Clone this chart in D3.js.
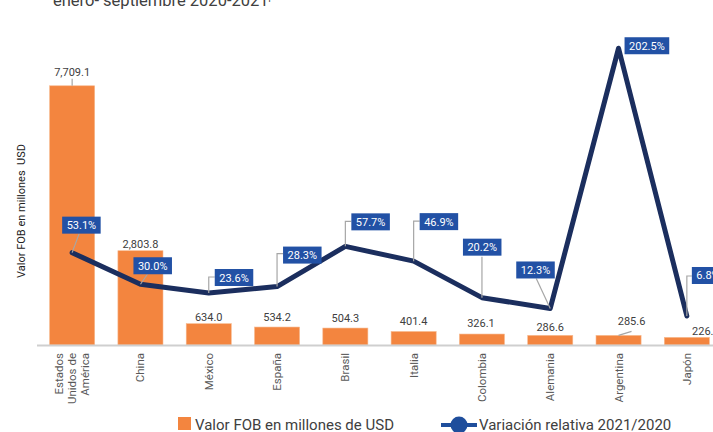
<!DOCTYPE html>
<html><head><meta charset="utf-8">
<script src="https://cdn.jsdelivr.net/npm/d3@7"></script>
<style>body{margin:0;background:#fff}svg{display:block;font-family:Roboto,"Noto Sans",sans-serif}</style>
</head><body>
<svg id="c" width="713" height="432"></svg>
<script>
const categories = [["Estados","Unidos de","América"],["China"],["México"],["España"],["Brasil"],["Italia"],["Colombia"],["Alemania"],["Argentina"],["Japón"]];
const fobValues = [7709.1, 2803.8, 634.0, 534.2, 504.3, 401.4, 326.1, 286.6, 285.6, 226.5];
const variation = [53.1, 30.0, 23.6, 28.3, 57.7, 46.9, 20.2, 12.3, 202.5, 6.8];
const titleText = "enero- septiembre 2020-2021";
const yTitle = "Valor FOB en millones  USD";
const legendLabels = ["Valor FOB en millones de USD", "Variación relativa 2021/2020"];

// layout (label placement relative to marks)
const pctLayout = [
  {dx:-10, dy:-36, leader:[[0,0],[7,-19]]},
  {dx:-7, dy:-27, leader:[[0,0],[7,-10]]},
  {dx:6, dy:-24, leader:[[0,0],[0,-16],[6,-16]]},
  {dx:6, dy:-40, leader:[[0,0],[0,-33],[6,-33]]},
  {dx:6, dy:-33, leader:[[0,0],[0,-25],[6,-25]]},
  {dx:6, dy:-48, leader:[[0,0],[0,-40],[6,-40]]},
  {dx:-19, dy:-59, leader:[[0,0],[0,-41]]},
  {dx:-34, dy:-47, leader:[[0,0],[-14,-30]]},
  {dx:6, dy:-11, leader:null},
  {dx:5, dy:-49, leader:[[0,0],[0,-40],[5,-40]]}
];
const valLayout = [
  {dx:0, dy:-10, leader:[[0,0],[0,-7]]},
  {dx:0, dy:-3}, {dx:0, dy:-3}, {dx:0, dy:-6}, {dx:0, dy:-6},
  {dx:0, dy:-7}, {dx:-1, dy:-7}, {dx:0, dy:-4},
  {dx:13, dy:-10, leader:[[0,0],[13,-4]]},
  {dx:19, dy:-2}
];

const svg = d3.select("#c");
const keys = categories.map((c,i)=>i);
const x = d3.scaleBand().domain(keys).range([38,721]).paddingInner(0.34).paddingOuter(0.17);
const yBar = d3.scaleLinear().domain([0,8000]).range([345,76]);
const yLine = d3.scaleLinear().domain([0,220]).range([325.3,24.3]);
const cx = i => x(i) + x.bandwidth()/2;

// title (cut off at top)
const t = svg.append("text").attr("x",53).attr("y",5.5).attr("font-size",16.5).attr("fill","#404040").text(titleText);
t.append("tspan").attr("font-size",9).attr("dy",-6).text("p");

// y title
svg.append("text").attr("transform","translate(25,211) rotate(-90)").attr("text-anchor","middle")
  .attr("font-size",11).attr("fill","#222").attr("xml:space","preserve").text(yTitle);

// bars
svg.selectAll("rect.bar").data(fobValues).join("rect").attr("class","bar")
  .attr("x",(d,i)=>x(i)).attr("width",x.bandwidth())
  .attr("y",d=>yBar(d)).attr("height",d=>345-yBar(d))
  .attr("fill","#F3853F").attr("stroke","#f7b98e").attr("stroke-width",0.6);

// baseline axis
svg.append("line").attr("x1",37).attr("x2",713).attr("y1",345.5).attr("y2",345.5).attr("stroke","#cfcfcf").attr("stroke-width",2);

// category labels
categories.forEach((lines,i)=>{
  const n = lines.length;
  lines.forEach((ln,j)=>{
    const off = (j-(n-1)/2)*12.7;
    svg.append("text").attr("transform",`translate(${cx(i)+4+off},353) rotate(-90)`)
      .attr("text-anchor","end").attr("font-size",11.5).attr("fill","#595959").text(ln);
  });
});

// value labels
const lineGen = d3.line();
fobValues.forEach((v,i)=>{
  const L = valLayout[i], bx = cx(i), by = yBar(v);
  if (L.leader) svg.append("path").attr("d",lineGen(L.leader.map(p=>[bx+p[0],by+p[1]])))
    .attr("fill","none").attr("stroke","#a6a6a6").attr("stroke-width",1.2);
  svg.append("text").attr("x",bx+L.dx).attr("y",by+L.dy).attr("text-anchor","middle")
    .attr("font-size",11).attr("fill","#404040").text(d3.format(",.1f")(v));
});

// line
svg.append("path").datum(variation).attr("d",d3.line().x((d,i)=>cx(i)).y(d=>yLine(d)))
  .attr("fill","none").attr("stroke","#1b2e5e").attr("stroke-width",5).attr("stroke-linejoin","round").attr("stroke-linecap","round");

// pct labels
variation.forEach((v,i)=>{
  const L = pctLayout[i], px = cx(i), py = yLine(v);
  if (L.leader) svg.append("path").attr("d",lineGen(L.leader.map(p=>[px+p[0],py+p[1]])))
    .attr("fill","none").attr("stroke","#a6a6a6").attr("stroke-width",1.2);
  const g = svg.append("g");
  const rect = g.append("rect").attr("x",px+L.dx).attr("y",py+L.dy).attr("height",17).attr("fill","#2251A5");
  const tx = g.append("text").attr("x",px+L.dx+4.5).attr("y",py+L.dy+12.5).attr("font-size",11).attr("fill","#fff").text(d3.format(".1f")(v)+"%");
  rect.attr("width", tx.node().getComputedTextLength()+9);
});

// legend
svg.append("rect").attr("x",178).attr("y",417).attr("width",13).attr("height",13).attr("fill","#F3853F");
svg.append("text").attr("x",195).attr("y",429.5).attr("font-size",15).attr("fill","#404040").text(legendLabels[0]);
svg.append("line").attr("x1",441).attr("x2",477).attr("y1",425).attr("y2",425).attr("stroke","#1f4e9c").attr("stroke-width",4);
svg.append("circle").attr("cx",459).attr("cy",425).attr("r",8.5).attr("fill","#1f4e9c");
svg.append("text").attr("x",479).attr("y",429.5).attr("font-size",15).attr("fill","#404040").text(legendLabels[1]);
</script>
</body></html>
